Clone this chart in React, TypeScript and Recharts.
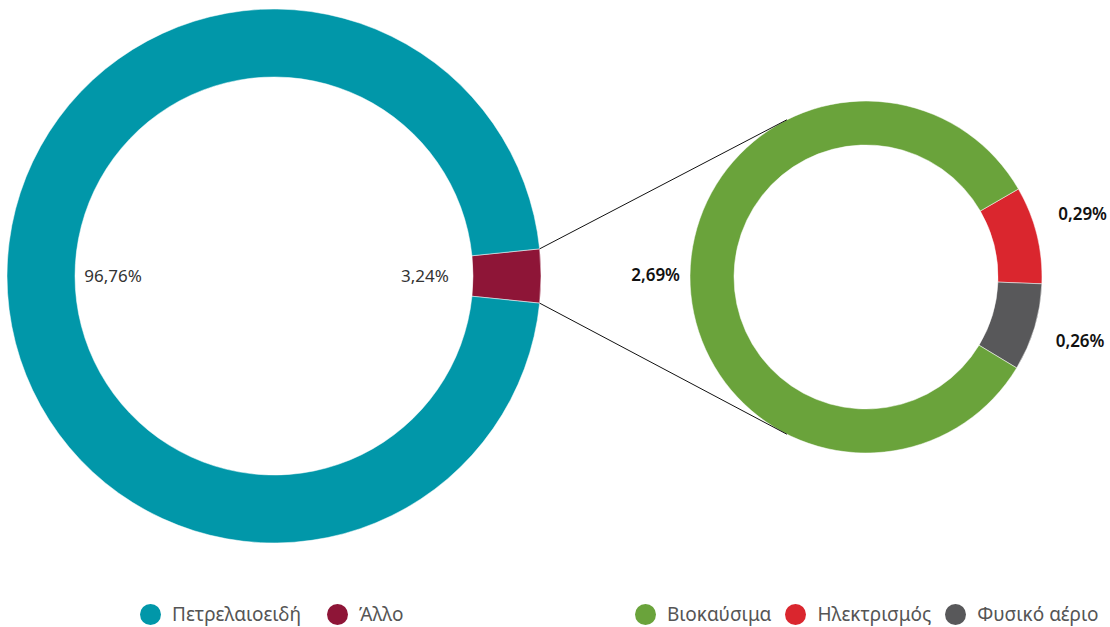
import { Cell, Pie, PieChart } from "recharts";

const mainNames = ["Άλλο", "Πετρελαιοειδή"];
const mainValues = [3.24, 96.76];
const mainColors = ["#8e1537", "#0197a9"];

const detailNames = ["Ηλεκτρισμός", "Φυσικό αέριο", "Βιοκαύσιμα"];
const detailValues = [0.29, 0.26, 2.69];
const detailColors = ["#da262e", "#58585a", "#6aa33b"];

const mainLegend = ["Πετρελαιοειδή", "Άλλο"];
const detailLegend = ["Βιοκαύσιμα", "Ηλεκτρισμός", "Φυσικό αέριο"];

const mainData = mainNames.map((name, i) => ({ name, value: mainValues[i] }));
const detailData = detailNames.map((name, i) => ({ name, value: detailValues[i] }));

const colorOf: Record<string, string> = {};
mainNames.forEach((n, i) => (colorOf[n] = mainColors[i]));
detailNames.forEach((n, i) => (colorOf[n] = detailColors[i]));

const W = 1110;
const H = 627;
const FONT = "'Noto Sans', sans-serif";

// geometry
const big = { cx: 274, cy: 276, inner: 199, outer: 267 };
const small = { cx: 866, cy: 277, inner: 132, outer: 176 };
const otherHalf = (mainValues[0] / (mainValues[0] + mainValues[1])) * 180;
const smallStart = 30;
const RAD = Math.PI / 180;

const fmt = (v: number) => `${v.toFixed(2).replace(".", ",")}%`;

function MainLabel(props: any) {
  const { cx, cy, midAngle, innerRadius, value } = props;
  const r = innerRadius - (Math.cos(midAngle * RAD) < 0 ? 38 : 48);
  const x = cx + r * Math.cos(midAngle * RAD);
  const y = cy - r * Math.sin(midAngle * RAD);
  return (
    <text x={x} y={y} dy={6} textAnchor="middle" fill="#333" fontSize={17} fontFamily={FONT}>
      {fmt(value)}
    </text>
  );
}

// small labels on the right sit a bit further apart than the slice midpoints
const labelNudge = [-5, 7, 0];

function DetailLabel(props: any) {
  const { cx, cy, midAngle, outerRadius, value, index } = props;
  const left = Math.cos(midAngle * RAD) < 0;
  const r = outerRadius + (left ? 10 : 22);
  const x = cx + r * Math.cos(midAngle * RAD);
  const y = cy - r * Math.sin(midAngle * RAD) + (labelNudge[index] - (index === 0 ? 10 : 0));
  return (
    <text
      x={x}
      y={y}
      dy={6}
      textAnchor={left ? "end" : "start"}
      fill="#111"
      fontSize={17}
      fontWeight={600}
      fontFamily={FONT}
    >
      {fmt(value)}
    </text>
  );
}

function LegendRow({ items, left, gap }: { items: string[]; left: number; gap: number }) {
  return (
    <div
      style={{
        position: "absolute",
        left,
        top: 601,
        display: "flex",
        alignItems: "center",
        gap,
        fontFamily: FONT,
        fontSize: 19,
        color: "#555",
      }}
    >
      {items.map((name) => (
        <div key={name} style={{ display: "flex", alignItems: "center", gap: 11 }}>
          <span
            style={{
              width: 21,
              height: 21,
              borderRadius: "50%",
              background: colorOf[name],
              display: "inline-block",
            }}
          />
          <span>{name}</span>
        </div>
      ))}
    </div>
  );
}

export default function App() {
  const a1 = otherHalf * RAD;
  const a2 = 116.7 * RAD;
  const p1 = { x: big.cx + big.outer * Math.cos(a1), y: big.cy - big.outer * Math.sin(a1) };
  const p2 = { x: big.cx + big.outer * Math.cos(-a1), y: big.cy - big.outer * Math.sin(-a1) };
  const q1 = { x: small.cx + small.outer * Math.cos(a2), y: small.cy - small.outer * Math.sin(a2) };
  const q2 = { x: small.cx + small.outer * Math.cos(-a2), y: small.cy - small.outer * Math.sin(-a2) };

  return (
    <div style={{ position: "absolute", left: 0, top: 0, width: W, height: H, background: "#fff" }}>
      <PieChart width={W} height={H} margin={{ top: 0, right: 0, bottom: 0, left: 0 }}>
        <Pie
          data={mainData}
          dataKey="value"
          cx={big.cx}
          cy={big.cy}
          innerRadius={big.inner}
          outerRadius={big.outer}
          startAngle={otherHalf}
          endAngle={otherHalf - 360}
          stroke="#ffffff"
          strokeWidth={0.5}
          label={MainLabel}
          labelLine={false}
          isAnimationActive={false}
        >
          {mainData.map((d, i) => (
            <Cell key={d.name} fill={mainColors[i]} />
          ))}
        </Pie>
        <Pie
          data={detailData}
          dataKey="value"
          cx={small.cx}
          cy={small.cy}
          innerRadius={small.inner}
          outerRadius={small.outer}
          startAngle={smallStart}
          endAngle={smallStart - 360}
          stroke="#ffffff"
          strokeWidth={0.5}
          label={DetailLabel}
          labelLine={false}
          isAnimationActive={false}
        >
          {detailData.map((d, i) => (
            <Cell key={d.name} fill={detailColors[i]} />
          ))}
        </Pie>
      </PieChart>
      <svg width={W} height={H} style={{ position: "absolute", left: 0, top: 0, pointerEvents: "none" }}>
        <line x1={p1.x} y1={p1.y} x2={q1.x} y2={q1.y} stroke="#111" strokeWidth={1} />
        <line x1={p2.x} y1={p2.y} x2={q2.x} y2={q2.y} stroke="#111" strokeWidth={1} />
      </svg>
      <LegendRow items={mainLegend} left={140} gap={26} />
      <LegendRow items={detailLegend} left={635} gap={14} />
    </div>
  );
}
